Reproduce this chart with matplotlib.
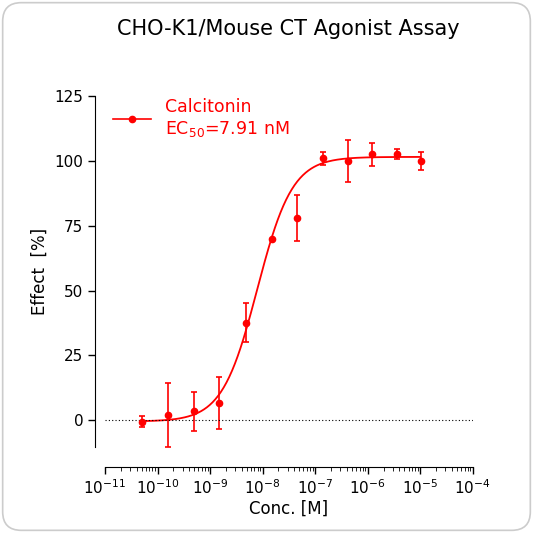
import numpy as np
import matplotlib
matplotlib.use("Agg")
import matplotlib.pyplot as plt
from matplotlib.patches import FancyBboxPatch
from matplotlib.ticker import LogLocator, NullFormatter

conc = [5e-11, 1.6e-10, 5e-10, 1.5e-9, 4.8e-9, 1.5e-8, 4.6e-8, 1.4e-7, 4.3e-7, 1.2e-6, 3.6e-6, 1.05e-5]
effect = [-0.5, 2, 3.5, 6.5, 37.5, 70, 78, 101, 100, 102.5, 102.5, 100]
err = [2.3, 12.5, 7.5, 10, 7.5, 0, 9, 2.5, 8, 4.5, 2, 3.5]
ec50 = 7.91e-9
bottom_fit, top_fit, hill = -0.5, 101.5, 1.3

red = "#ff0000"
fig = plt.figure(figsize=(5.33, 5.33), dpi=100)
fig.patches.append(FancyBboxPatch((0.005, 0.005), 0.99, 0.99, boxstyle="round,pad=0,rounding_size=0.035",
                                  transform=fig.transFigure, fc="white", ec="#cccccc", lw=1.2, zorder=-10))
ax = fig.add_axes([0.197, 0.161, 0.69, 0.659])
ax.patch.set_alpha(0)
xs = np.logspace(-10.3, -5, 300)
ys = bottom_fit + (top_fit - bottom_fit) / (1 + (ec50 / xs) ** hill)
ax.plot(xs, ys, color=red, lw=1.3)
ax.errorbar(conc, effect, yerr=err, fmt="o", color=red, ms=4.5, capsize=2.5, elinewidth=1.2, capthick=1.2)
ax.plot([], [], "-o", color=red, ms=4.5, lw=1.2, label="Calcitonin\nEC$_{50}$=7.91 nM")
ax.axhline(0, color="black", ls=(0, (1, 2)), lw=0.8)
ax.set_xscale("log")
ax.set_xlim(1e-11, 1e-4)
ax.set_ylim(-10.4, 125)
ax.set_yticks([0, 25, 50, 75, 100, 125])
ax.xaxis.set_major_locator(LogLocator(base=10, numticks=20))
ax.xaxis.set_minor_locator(LogLocator(base=10, subs=np.arange(2, 10), numticks=100))
ax.xaxis.set_minor_formatter(NullFormatter())
for s in ["top", "right"]:
    ax.spines[s].set_visible(False)
ax.spines["left"].set_position(("outward", 7))
ax.spines["bottom"].set_position(("outward", 14))
ax.spines["left"].set_bounds(-10.4, 125)
ax.tick_params(labelsize=11, width=1, length=5)
ax.tick_params(which="minor", length=3)
ax.set_xlabel("Conc. [M]", fontsize=12, labelpad=2)
ax.set_ylabel("Effect  [%]", fontsize=12)
leg = ax.legend(loc="upper left", bbox_to_anchor=(-0.02, 1.04), frameon=False, fontsize=12.5,
                handlelength=2.2, labelcolor=red)
fig.text(0.54, 0.935, "CHO-K1/Mouse CT Agonist Assay", ha="center", fontsize=15)
fig.savefig("out.png", dpi=100)
